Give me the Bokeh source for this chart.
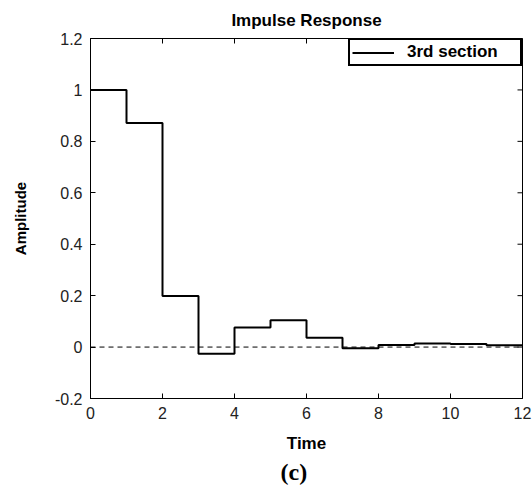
import math
from bokeh.plotting import figure
from bokeh.models import (Legend, LegendItem, Title, FixedTicker,
                          Range1d, Span, ColumnDataSource)
from bokeh.embed import file_html
from bokeh.resources import INLINE

# ---- data ----
time_steps = [0, 1, 2, 3, 4, 5, 6, 7, 8, 9, 10, 11, 12]
amplitude = [1.0, 0.871, 0.199, -0.026, 0.076, 0.104, 0.036, -0.005,
             0.008, 0.014, 0.012, 0.007, 0.007]
x_ticks = [0, 2, 4, 6, 8, 10, 12]
y_ticks = [-0.2, 0, 0.2, 0.4, 0.6, 0.8, 1.0, 1.2]
y_tick_labels = ["-0.2", "0", "0.2", "0.4", "0.6", "0.8", "1", "1.2"]
x_limits = (0, 12)
y_limits = (-0.2, 1.2)
series_name = "3rd section"
title_text = "Impulse Response"
x_label = "Time"
y_label = "Amplitude"
caption = "(c)"

SANS = "Liberation Sans"

p = figure(width=532, height=485, x_range=Range1d(*x_limits), y_range=Range1d(*y_limits),
           output_backend="svg", toolbar_location=None,
           min_border_left=90, min_border_right=10, min_border_top=38, min_border_bottom=86)

p.background_fill_color = "white"
p.border_fill_color = "white"
p.outline_line_color = "black"
p.outline_line_width = 1
p.grid.visible = False

p.title.text = title_text
p.title.align = "center"
p.title.text_font = SANS
p.title.text_font_style = "bold"
p.title.text_font_size = "17px"
p.title.text_color = "black"
p.title.standoff = 17

xa = p.xaxis[0]
ya = p.yaxis[0]
xa.ticker = FixedTicker(ticks=x_ticks)
ya.ticker = FixedTicker(ticks=y_ticks)
ya.major_label_overrides = {t: s for t, s in zip(y_ticks, y_tick_labels)}
for ax in (xa, ya):
    ax.axis_line_color = "black"
    ax.major_tick_in = 5
    ax.major_tick_out = 0
    ax.minor_tick_line_color = None
    ax.major_tick_line_color = "black"
    ax.major_label_text_font = SANS
    ax.major_label_text_color = "#222222"
    ax.major_label_text_font_size = "16px"
    ax.axis_label_text_font = SANS
    ax.axis_label_text_font_style = "bold"
    ax.axis_label_text_color = "black"
xa.major_label_standoff = 8
ya.major_label_standoff = 8
xa.axis_label = x_label
ya.axis_label = y_label
xa.axis_label_text_font_size = "17px"
ya.axis_label_text_font_size = "15px"
xa.axis_label_standoff = 12
ya.axis_label_standoff = 23

# tick marks on the top and right edges of the box (inside ticks)
top_src = ColumnDataSource(dict(x=x_ticks, y=[y_limits[1]] * len(x_ticks)))
right_src = ColumnDataSource(dict(x=[x_limits[1]] * len(y_ticks), y=y_ticks))
p.scatter(x="x", y="y", source=top_src, marker="dash", size=10, angle=math.pi / 2,
          line_color="black", line_width=1)
p.scatter(x="x", y="y", source=right_src, marker="dash", size=10,
          line_color="black", line_width=1)

zero = Span(location=0, dimension="width", line_color="black", line_width=1,
            line_dash="5 4")
p.add_layout(zero)

src = ColumnDataSource(dict(t=time_steps, h=amplitude))
r = p.step(x="t", y="h", source=src, mode="after", line_width=2, line_color="black")

legend = Legend(items=[LegendItem(label=series_name, renderers=[r])],
                location="top_right", margin=0, padding=2, spacing=0,
                glyph_width=42, glyph_height=19, label_height=19,
                label_width=111, label_standoff=13,
                border_line_color="black", border_line_width=2, border_line_alpha=1.0,
                label_text_font=SANS, label_text_font_style="bold",
                label_text_color="black",
                label_text_font_size="17px", background_fill_alpha=1.0)
p.add_layout(legend)

cap = Title(text=caption, align="left", offset=190, standoff=2,
            text_font="Liberation Serif",
            text_font_style="bold", text_font_size="24px", text_color="black")
p.add_layout(cap, "below")

open("out.html", "w").write(file_html(p, INLINE))
